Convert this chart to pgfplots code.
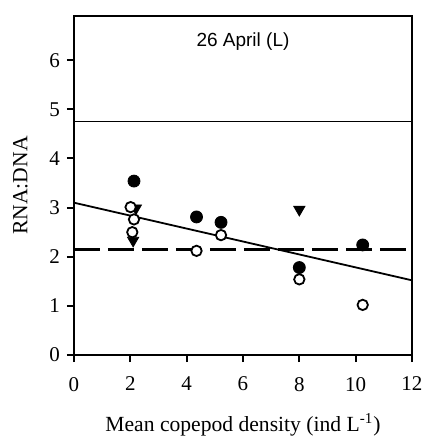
\documentclass[border=0pt]{standalone}
\usepackage{pgfplots}
\pgfplotsset{compat=1.18}
\usepackage{fontspec}
\setmainfont{Liberation Serif}
\newfontfamily\arial{Liberation Sans}
\begin{document}
\begin{tikzpicture}
\begin{axis}[
  scale only axis, width=169pt, height=169.5pt,
  xmin=0, xmax=12, ymin=0, ymax=6.9,
  xtick={0,2,...,12}, ytick={0,1,...,6},
  xtick pos=bottom, ytick pos=left, tick align=outside,
  major tick length=3.5pt,
  axis line style={line width=1pt}, tick style={line width=1pt, black},
  /pgf/number format/assume math mode=true,
  ticklabel style={font=\fontsize{10.5}{12}\selectfont},
  xticklabel style={yshift=-4pt},
  label style={font=\fontsize{10.8}{12}\selectfont},
  xlabel={Mean copepod density (ind L\textsuperscript{-1})},
  ylabel={RNA:DNA},
  xlabel style={at={(axis description cs:0.5,0)}, anchor=center, yshift=-35pt},
  ylabel style={at={(axis description cs:0,0.5)}, anchor=center, yshift=26.75pt},
  clip=false,
]
\addplot[black, line width=0.5pt, forget plot] coordinates {(0,4.75) (12,4.75)};
\addplot[black, line width=0.9pt, forget plot] coordinates {(0,3.1) (12,1.52)};
\addplot[black, line width=1.3pt, dash pattern=on 13pt off 4pt, forget plot] coordinates {(0,2.15) (12,2.15)};
% filled circles
\addplot[only marks, mark=*, mark size=3pt, black] coordinates {
(2.13,3.54) (4.35,2.81) (5.22,2.70) (8.0,1.78) (10.25,2.24)};
% triangles
\addplot[only marks, mark=triangle*, mark size=3.2pt, black, mark options={rotate=180}] coordinates {
(2.2,2.99) (2.10,2.33) (8.0,2.96)};
% open circles
\addplot[only marks, mark=*, mark size=2.6pt, black, mark options={fill=white, line width=0.9pt}] coordinates {
(2.01,3.01) (2.13,2.76) (2.07,2.50) (4.35,2.12) (5.22,2.44) (8.0,1.54) (10.25,1.02)};
\node[font=\arial\fontsize{9.5}{11}\selectfont] at (axis cs:6,6.38) {26 April (L)};
\end{axis}
\pgfresetboundingbox
\path (-37pt,-40.5pt) rectangle (174.5pt,177.5pt);
\end{tikzpicture}
\end{document}
